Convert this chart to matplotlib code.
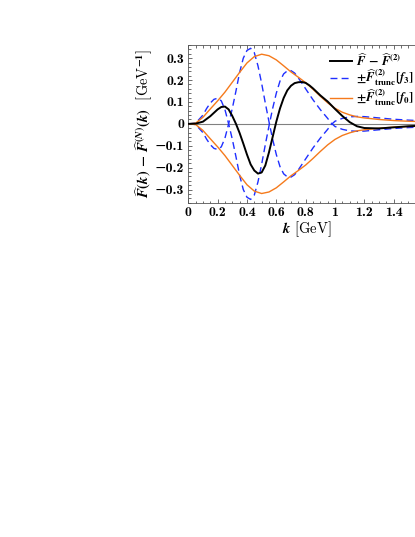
import numpy as np
import matplotlib
matplotlib.use("Agg")
import matplotlib.pyplot as plt
from matplotlib.ticker import MultipleLocator, FuncFormatter

plt.rcParams['mathtext.fontset'] = 'custom'
plt.rcParams['mathtext.rm'] = 'STIXGeneral:bold'
plt.rcParams['mathtext.bf'] = 'STIXGeneral:bold'
plt.rcParams['mathtext.it'] = 'STIXGeneral:italic:bold'
plt.rcParams['mathtext.fallback'] = 'stix'
plt.rcParams['font.family'] = ['cmr10', 'DejaVu Serif']
plt.rcParams['axes.unicode_minus'] = True

# ---- data ----
k_black = [0.0, 0.05, 0.1, 0.15, 0.2, 0.225, 0.25, 0.275, 0.3, 0.325, 0.35, 0.375,
           0.4, 0.425, 0.45, 0.475, 0.5, 0.525, 0.55, 0.575, 0.6, 0.625, 0.65,
           0.675, 0.7, 0.725, 0.75, 0.775, 0.8, 0.825, 0.85, 0.9, 0.95, 1.0,
           1.05, 1.1, 1.15, 1.2, 1.3, 1.4, 1.5, 1.6]
diff_black = [0.0, 0.001, 0.01, 0.035, 0.066, 0.077, 0.079, 0.066, 0.036, 0.0,
              -0.042, -0.09, -0.14, -0.185, -0.213, -0.227, -0.222, -0.19, -0.13,
              -0.06, 0.01, 0.07, 0.118, 0.153, 0.174, 0.186, 0.19, 0.191, 0.187,
              0.176, 0.162, 0.13, 0.102, 0.068, 0.036, 0.008, -0.011, -0.019,
              -0.021, -0.016, -0.011, -0.008]

k_f0 = [0.0, 0.05, 0.1, 0.15, 0.2, 0.25, 0.3, 0.35, 0.4, 0.45, 0.5, 0.55, 0.6,
        0.65, 0.7, 0.75, 0.8, 0.85, 0.9, 0.95, 1.0, 1.05, 1.1, 1.15, 1.2, 1.3,
        1.4, 1.5, 1.6]
trunc_f0 = [0.0, 0.003, 0.03, 0.068, 0.105, 0.145, 0.19, 0.235, 0.278, 0.307,
            0.318, 0.311, 0.292, 0.265, 0.237, 0.213, 0.188, 0.158, 0.126,
            0.096, 0.071, 0.053, 0.041, 0.032, 0.027, 0.02, 0.015, 0.012, 0.01]

k_f3 = [0.0, 0.05, 0.1, 0.125, 0.15, 0.175, 0.2, 0.225, 0.25, 0.275, 0.3, 0.325,
        0.35, 0.375, 0.4, 0.425, 0.45, 0.475, 0.5, 0.525, 0.55, 0.575, 0.6,
        0.625, 0.65, 0.675, 0.7, 0.725, 0.75, 0.8, 0.85, 0.9, 0.95, 0.975, 1.0,
        1.05, 1.1, 1.15, 1.2, 1.3, 1.4, 1.5, 1.6]
trunc_f3 = [0.0, 0.003, 0.04, 0.07, 0.095, 0.112, 0.117, 0.105, 0.065, 0.0,
            -0.07, -0.15, -0.235, -0.3, -0.335, -0.345, -0.325, -0.265, -0.185,
            -0.095, -0.01, 0.07, 0.14, 0.195, 0.228, 0.242, 0.243, 0.232, 0.21,
            0.16, 0.11, 0.065, 0.025, 0.003, -0.012, -0.025, -0.032, -0.034,
            -0.033, -0.027, -0.021, -0.017, -0.014]

x_ticks = [0, 0.2, 0.4, 0.6, 0.8, 1.0, 1.2, 1.4]
y_ticks = [-0.3, -0.2, -0.1, 0.0, 0.1, 0.2, 0.3]

# ---- figure ----
fig = plt.figure(figsize=(4.15, 5.37), dpi=100)
ax = fig.add_axes([0.4537, 0.6225, 0.5656, 0.2937])

blue = '#1f2fff'
orange = '#f57a1c'

ax.axhline(0, color='#808080', lw=0.8, zorder=1)
kb = np.array(k_black); db = np.array(diff_black)
k3 = np.array(k_f3); f3 = np.array(trunc_f3)
k0 = np.array(k_f0); f0 = np.array(trunc_f0)

l1, = ax.plot(kb, db, color='black', lw=1.4, zorder=5)
l2, = ax.plot(k3, f3, color=blue, lw=1.0, ls=(0, (5, 3)), zorder=3)
ax.plot(k3, -f3, color=blue, lw=1.0, ls=(0, (5, 3)), zorder=3)
l3, = ax.plot(k0, f0, color=orange, lw=1.0, zorder=4)
ax.plot(k0, -f0, color=orange, lw=1.0, zorder=4)

ax.set_xlim(0, 1.6)
ax.set_ylim(-0.36, 0.36)
ax.set_xticks(x_ticks)
ax.set_yticks(y_ticks)
ax.xaxis.set_minor_locator(MultipleLocator(0.05))
ax.yaxis.set_minor_locator(MultipleLocator(0.02))
fmt = FuncFormatter(lambda v, p: ('%g' % round(v, 3)).replace('-', '\u2212'))
ax.xaxis.set_major_formatter(fmt)
ax.yaxis.set_major_formatter(fmt)
ax.tick_params(which='both', direction='in', top=True, right=True,
               labelsize=10, width=0.6, color='#555555', pad=3)
ax.tick_params(which='major', length=3)
ax.tick_params(which='minor', length=1.8)
for lab in ax.get_xticklabels() + ax.get_yticklabels():
    lab.set_fontfamily(['cmb10', 'DejaVu Serif'])
for s in ax.spines.values():
    s.set_linewidth(0.6)
    s.set_color('#555555')

ax.set_xlabel(r'$k$ [GeV]', fontsize=10.5)
ax.set_ylabel(r'$\widehat{F}(k)\,-\,\widehat{F}^{(N)}(k)$  [GeV$^{-1}$]',
              fontsize=10.5)
ax.xaxis.set_label_coords(0.506, -0.105)
ax.yaxis.set_label_coords(-0.188, 0.5)
ax.yaxis.label.set_verticalalignment('center')

leg = fig.legend([l1, l2, l3],
                 [r'$\widehat{F}\,-\,\widehat{F}^{(2)}$',
                  r'$\pm\widehat{F}^{(2)}_{\rm trunc}[f_3]$',
                  r'$\pm\widehat{F}^{(2)}_{\rm trunc}[f_0]$'],
                 loc='upper left', bbox_to_anchor=(330/415, 1 - 52/537),
                 frameon=False, fontsize=9, handlelength=1.75, handletextpad=0.3,
                 borderpad=0, borderaxespad=0, labelspacing=-0.05)

fig.savefig('out.png', dpi=100)
